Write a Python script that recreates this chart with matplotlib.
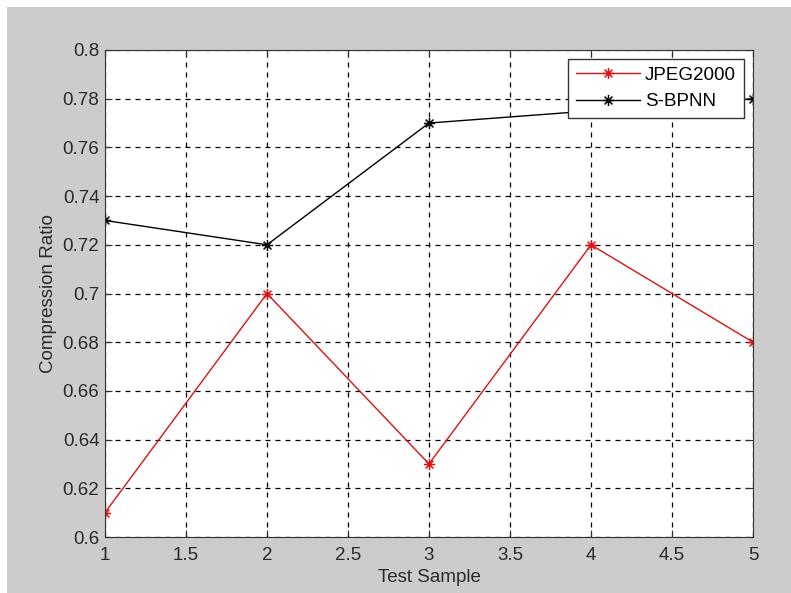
import matplotlib
matplotlib.use("Agg")
import matplotlib.pyplot as plt
from matplotlib.path import Path
from matplotlib.patches import Rectangle
import numpy as np

samples = [1, 2, 3, 4, 5]
jpeg2000 = [0.61, 0.70, 0.63, 0.72, 0.68]
sbpnn = [0.73, 0.72, 0.77, 0.775, 0.78]
xticks = [1, 1.5, 2, 2.5, 3, 3.5, 4, 4.5, 5]
yticks = [0.6, 0.62, 0.64, 0.66, 0.68, 0.7, 0.72, 0.74, 0.76, 0.78, 0.8]
ytick_labels = ["0.6", "0.62", "0.64", "0.66", "0.68", "0.7", "0.72", "0.74", "0.76", "0.78", "0.8"]
xtick_labels = ["1", "1.5", "2", "2.5", "3", "3.5", "4", "4.5", "5"]

plt.rcParams['font.family'] = ['Liberation Sans', 'DejaVu Sans']

# MATLAB-like asterisk marker (plus + cross)
d = np.sqrt(0.5)
verts = [(-1, 0), (1, 0), (0, -1), (0, 1), (-d, -d), (d, d), (-d, d), (d, -d)]
codes = [Path.MOVETO, Path.LINETO] * 4
asterisk = Path(verts, codes)

FS = 13.5
W, H = 791, 593
fig = plt.figure(figsize=(W / 100, H / 100), dpi=100, facecolor='#cccccc')
# thin white strips at the top and left edges, as in the reference scan
fig.patches.append(Rectangle((0, 1 - 7 / H), 1, 7 / H, transform=fig.transFigure,
                             facecolor='white', edgecolor='none'))
fig.patches.append(Rectangle((0, 0), 7 / W, 1, transform=fig.transFigure,
                             facecolor='white', edgecolor='none'))
ax = fig.add_axes([0.1327, 0.0944, 0.8193, 0.8213])
ax.set_facecolor('white')

ax.plot(samples, jpeg2000, color='#dd1111', marker=asterisk, markersize=8, markeredgewidth=1.1,
        linewidth=1, label='JPEG2000')
ax.plot(samples, sbpnn, color='black', marker=asterisk, markersize=8, markeredgewidth=1.1,
        linewidth=1, label='S-BPNN')

ax.set_xlim(1, 5)
ax.set_ylim(0.6, 0.8)
ax.set_xticks(xticks)
ax.set_xticklabels(xtick_labels)
ax.set_yticks(yticks)
ax.set_yticklabels(ytick_labels)
ax.tick_params(direction='in', labelsize=FS, color='#333333', labelcolor='#2a2a2a',
               top=True, right=True, length=5)
ax.tick_params(axis='y', pad=4)
ax.tick_params(axis='x', pad=7)
ax.grid(True, color='black', linestyle=(0, (4, 4)), linewidth=0.9)
for s in ax.spines.values():
    s.set_color('#333333')

ax.set_xlabel('Test Sample', fontsize=FS, labelpad=4, color='#2a2a2a')
ax.set_ylabel('Compression Ratio', fontsize=FS, labelpad=4, color='#2a2a2a')

leg = ax.legend(loc='upper right', fontsize=FS, fancybox=False, framealpha=1,
                edgecolor='#333333', borderaxespad=0.5, handlelength=3.4,
                handletextpad=0.3, borderpad=0.4, labelspacing=0.5)
leg.get_frame().set_linewidth(1)
leg.set_zorder(10)

fig.savefig('out.png', dpi=100, facecolor=fig.get_facecolor())
